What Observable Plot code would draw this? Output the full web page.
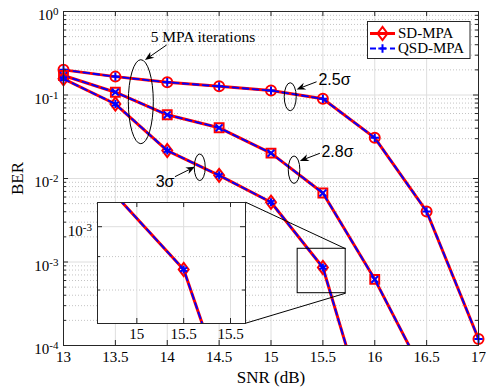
<!DOCTYPE html>
<html><head><meta charset="utf-8">
<script src="https://cdn.jsdelivr.net/npm/d3@7"></script>
<script src="https://cdn.jsdelivr.net/npm/@observablehq/plot@0.6"></script>
<style>
body{margin:0;background:#fff;}
#chart{position:relative;width:486px;height:392px;}
</style>
</head><body><div id="chart"></div>
<script>
// ---- data ----
const snr = [13, 13.5, 14, 14.5, 15, 15.5, 16, 16.5, 17];
const sd25  = [0.200, 0.166, 0.142, 0.127, 0.113, 0.090, 0.0307, 0.00403, 0.00012];
const sd28  = [0.171, 0.108, 0.058, 0.0405, 0.0201, 0.0067, 0.00062, 0.000039];
const sd30  = [0.156, 0.078, 0.0216, 0.0109, 0.0052, 0.00086, 0.000007];
const qsd25 = [0.200, 0.166, 0.142, 0.127, 0.113, 0.090, 0.0307, 0.00403, 0.00012];
const qsd28 = [0.171, 0.108, 0.058, 0.0405, 0.0201, 0.0067, 0.00062, 0.000039];
const qsd30 = [0.156, 0.078, 0.0216, 0.0109, 0.0052, 0.00086, 0.000007];
const yDecades = [1e-4, 1e-3, 1e-2, 1e-1, 1];
const insetXTicks = [15.45, 15.5, 15.55];
const insetXLabels = ["15", "15.5", "15.5"];
const insetYMajor = [1e-3];
const insetYMinor = [8e-4, 9e-4];
const legendLabels = ["SD-MPA", "QSD-MPA"];

const rows = (arr) => arr.map((b, i) => ({snr: snr[i], ber: b}));
const yMinor = [];
for (const d of [1e-4, 1e-3, 1e-2, 1e-1]) for (let k = 2; k <= 9; k++) yMinor.push(d * k);

// ---- styles ----
const RED = "#ff0000", BLUE = "#0000ff";
const SERIF = "'Liberation Serif', 'Times New Roman', serif";
const SANS = "'Liberation Sans', Arial, sans-serif";
const GRID = "#dedede", MINOR = "#c4c4c4", AXIS = "#262626";

const diamond = {draw(ctx, size) { const s = Math.sqrt(size); const h = 0.74 * s, w = 0.56 * s;
  ctx.moveTo(0, -h); ctx.lineTo(w, 0); ctx.lineTo(0, h); ctx.lineTo(-w, 0); ctx.closePath(); }};

const W = 486, H = 392, mL = 63, mR = 8, mT = 11, mB = 47;
const pW = W - mL - mR, pH = H - mT - mB;

function seriesMarks(sd, qsd, redSym, blueSym, blueR, filt) {
  return [
    Plot.line(rows(sd), {x: "snr", y: "ber", stroke: RED, strokeWidth: 3, clip: true}),
    Plot.dot(rows(sd), {x: "snr", y: "ber", filter: filt, symbol: redSym, r: 5, stroke: RED, strokeWidth: 2, fill: "none"}),
    Plot.line(rows(qsd), {x: "snr", y: "ber", stroke: BLUE, strokeWidth: 1.8, strokeDasharray: "6,4", clip: true}),
    Plot.dot(rows(qsd), {x: "snr", y: "ber", filter: filt, symbol: blueSym, r: blueR, stroke: BLUE, strokeWidth: 2, fill: "none"})
  ];
}
const inMain = d => d.ber >= 1e-4;

// annotations (data coordinates)
const zoomBox = [{x1: 15.257, x2: 15.72, y1: 4.23e-4, y2: 1.44e-3}];
const connectors = [{x1: 14.756, y1: 5.2e-3, x2: 15.72, y2: 1.44e-3}, {x1: 14.756, y1: 1.85e-4, x2: 15.72, y2: 4.23e-4}];
const notes = [
  {t: "5 MPA iterations", x: 14.344, y: 0.492, anchor: "middle", font: SERIF, size: 15.5},
  {t: "2.5σ", x: 15.457, y: 0.152, anchor: "start", font: SANS, size: 16},
  {t: "2.8σ", x: 15.486, y: 0.02065, anchor: "start", font: SANS, size: 16},
  {t: "3σ", x: 14.069, y: 0.00903, anchor: "end", font: SANS, size: 16}
];
const ellipses = [
  {x: 13.75, y: 0.082, rx: 12.5, ry: 42},
  {x: 15.19, y: 0.094, rx: 6, ry: 14},
  {x: 15.227, y: 0.01257, rx: 5.8, ry: 13.7},
  {x: 14.318, y: 0.01343, rx: 5.5, ry: 13.3}
];
const arrows = [
  {x1: 13.999, y1: 0.392, x2: 13.79, y2: 0.259},
  {x1: 15.444, y1: 0.142, x2: 15.251, y2: 0.115},
  {x1: 15.476, y1: 0.01977, x2: 15.283, y2: 0.016},
  {x1: 14.079, y1: 0.01037, x2: 14.272, y2: 0.01365}
];

const T = {fontFamily: SERIF, fill: "black"};

const main = Plot.plot({
  width: W, height: H, marginLeft: mL, marginRight: mR, marginTop: mT, marginBottom: mB,
  style: {fontFamily: SERIF, fontSize: "15px", color: "black", background: "white"},
  x: {domain: [13, 17], axis: null},
  y: {type: "log", domain: [1e-4, 1], axis: null},
  marks: [
    Plot.ruleY(yMinor, {stroke: MINOR, strokeDasharray: "1,2"}),
    Plot.ruleX(snr, {stroke: GRID}),
    Plot.ruleY(yDecades, {stroke: GRID}),
    ...seriesMarks(sd25, qsd25, "circle", "plus", 2.8, inMain),
    ...seriesMarks(sd28, qsd28, "square", "times", 3.2, inMain),
    ...seriesMarks(sd30, qsd30, diamond, "asterisk", 3.8, inMain),
    Plot.rect(zoomBox, {x1: "x1", x2: "x2", y1: "y1", y2: "y2", fill: "none", stroke: "black", strokeWidth: 1}),
    Plot.link(connectors, {x1: "x1", y1: "y1", x2: "x2", y2: "y2", stroke: "black", strokeWidth: 1}),
    ...notes.map(n => Plot.text([n], {x: "x", y: "y", text: "t", textAnchor: n.anchor, fontFamily: n.font, fontSize: n.size, fill: "black"})),
    Plot.tickY(yDecades, {y: d => d, insetRight: pW - 5, stroke: AXIS}),
    Plot.tickY(yDecades, {y: d => d, insetLeft: pW - 5, stroke: AXIS}),
    Plot.tickY(yMinor, {y: d => d, insetRight: pW - 3, stroke: AXIS}),
    Plot.tickY(yMinor, {y: d => d, insetLeft: pW - 3, stroke: AXIS}),
    Plot.tickX(snr, {x: d => d, insetTop: pH - 5, stroke: AXIS}),
    Plot.tickX(snr, {x: d => d, insetBottom: pH - 5, stroke: AXIS}),
    Plot.frame({stroke: AXIS, strokeWidth: 1}),
    Plot.text(snr, {...T, x: d => d, frameAnchor: "bottom", dy: 16, text: d => String(d), textAnchor: "middle", fontSize: 15}),
    Plot.text(yDecades, {...T, y: d => d, frameAnchor: "left", dx: -5, dy: 4, textAnchor: "end", fontSize: 15, text: d => "10^" + Math.round(Math.log10(d))}),
    Plot.text(["BER"], {...T, frameAnchor: "left", dx: -45.5, rotate: -90, textAnchor: "middle", text: d => d, fontSize: 17}),
    Plot.text(["SNR (dB)"], {...T, frameAnchor: "bottom", dy: 37, textAnchor: "middle", text: d => d, fontSize: 17})
  ]
});

// ---- inset ----
const iL = 36, iR = 2, iT = 2, iB = 20, iW = 148, iH = 121;
const inset = Plot.plot({
  width: iL + iW + iR, height: iT + iH + iB, marginLeft: iL, marginRight: iR, marginTop: iT, marginBottom: iB,
  style: {fontFamily: SERIF, fontSize: "15px", color: "black", background: "transparent", overflow: "visible"},
  x: {domain: [15.408, 15.566], axis: null},
  y: {type: "log", domain: [7.11e-4, 1.089e-3], axis: null},
  marks: [
    Plot.frame({fill: "white", stroke: "none"}),
    Plot.ruleY(insetYMinor, {stroke: MINOR, strokeDasharray: "1,2"}),
    Plot.ruleX(insetXTicks, {stroke: GRID}),
    Plot.ruleY(insetYMajor, {stroke: GRID}),
    ...seriesMarks(sd30, qsd30, diamond, "asterisk", 3.8, d => d.snr >= 15.408 && d.snr <= 15.566),
    Plot.tickY(insetYMajor, {y: d => d, insetRight: iW - 5, stroke: AXIS}),
    Plot.tickY(insetYMajor, {y: d => d, insetLeft: iW - 5, stroke: AXIS}),
    Plot.tickY(insetYMinor, {y: d => d, insetRight: iW - 3, stroke: AXIS}),
    Plot.tickY(insetYMinor, {y: d => d, insetLeft: iW - 3, stroke: AXIS}),
    Plot.tickX(insetXTicks, {x: d => d, insetTop: iH - 5, stroke: AXIS}),
    Plot.tickX(insetXTicks, {x: d => d, insetBottom: iH - 5, stroke: AXIS}),
    Plot.frame({stroke: AXIS, strokeWidth: 1}),
    Plot.text(insetXTicks, {...T, x: d => d, frameAnchor: "bottom", dy: 15.5, fontSize: 15, text: (d, i) => insetXLabels[i], textAnchor: "middle"}),
    Plot.text(insetYMajor, {...T, y: d => d, frameAnchor: "left", dx: -5.5, dy: 4, fontSize: 15, textAnchor: "end", text: d => "10^" + Math.round(Math.log10(d))})
  ]
});

// superscripts
function superscripts(svg) {
  svg.querySelectorAll("text").forEach(t => {
    const m = /^10\^(-?\d+)$/.exec(t.textContent);
    if (!m) return;
    t.textContent = "10";
    const s = document.createElementNS("http://www.w3.org/2000/svg", "tspan");
    s.setAttribute("dy", "-5");
    s.setAttribute("font-size", "11px");
    s.textContent = m[1];
    t.appendChild(s);
  });
}
superscripts(main); superscripts(inset);

// ellipses & arrows through the plot's scales
const sx = main.scale("x"), sy = main.scale("y");
const X = v => sx.apply(v), Y = v => sy.apply(v);
const g = d3.select(main).append("g").attr("class", "annot");
ellipses.forEach(e => g.append("ellipse").attr("cx", X(e.x)).attr("cy", Y(e.y)).attr("rx", e.rx).attr("ry", e.ry)
  .attr("fill", "none").attr("stroke", "black").attr("stroke-width", 1));
arrows.forEach(a => {
  const x1 = X(a.x1), y1 = Y(a.y1), x2 = X(a.x2), y2 = Y(a.y2);
  const ang = Math.atan2(y2 - y1, x2 - x1), L = 9, Wd = 3.6;
  const ux = Math.cos(ang), uy = Math.sin(ang), px = -uy, py = ux;
  const bx = x2 - ux * L, by = y2 - uy * L, nx = x2 - ux * L * 0.7, ny = y2 - uy * L * 0.7;
  g.append("line").attr("x1", x1).attr("y1", y1).attr("x2", nx).attr("y2", ny).attr("stroke", "black").attr("stroke-width", 1);
  g.append("path").attr("d", `M${x2},${y2}L${bx + px * Wd},${by + py * Wd}L${nx},${ny}L${bx - px * Wd},${by - py * Wd}Z`).attr("fill", "black");
});

// legend
const lg = d3.select(main).append("g").attr("class", "legend");
lg.append("rect").attr("x", 367.5).attr("y", 21.5).attr("width", 102.5).attr("height", 37)
  .attr("fill", "white").attr("stroke", AXIS).attr("stroke-width", 1);
lg.append("line").attr("x1", 370).attr("x2", 395).attr("y1", 33.5).attr("y2", 33.5).attr("stroke", RED).attr("stroke-width", 3);
lg.append("path").attr("transform", "translate(382.5,33.5)").attr("d", d3.symbol(diamond, Math.PI * 25)())
  .attr("fill", "none").attr("stroke", RED).attr("stroke-width", 2);
lg.append("line").attr("x1", 370).attr("x2", 395).attr("y1", 48.5).attr("y2", 48.5).attr("stroke", BLUE).attr("stroke-width", 1.8).attr("stroke-dasharray", "6,4");
lg.append("path").attr("transform", "translate(382.5,48.5)").attr("d", d3.symbol(d3.symbolPlus, Math.PI * 2.8 * 2.8)())
  .attr("fill", "none").attr("stroke", BLUE).attr("stroke-width", 2);
legendLabels.forEach((t, i) => lg.append("text").attr("x", 398).attr("y", 33.5 + 15 * i).attr("dy", "0.33em")
  .attr("text-anchor", "start").style("font-family", SERIF).style("font-size", "15px").attr("fill", "black").text(t));

const chart = document.getElementById("chart");
chart.appendChild(main);
inset.style.position = "absolute";
inset.style.left = (97.3 - iL) + "px";
inset.style.top = (201.7 - iT) + "px";
inset.style.maxWidth = "none";
chart.appendChild(inset);
</script>
</body></html>
